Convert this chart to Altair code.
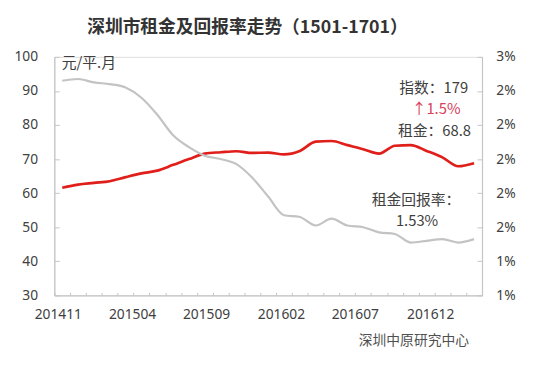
import altair as alt
import pandas as pd

# ---- data ----
MONTHS = ["201411", "201412",
          "201501", "201502", "201503", "201504", "201505", "201506",
          "201507", "201508", "201509", "201510", "201511", "201512",
          "201601", "201602", "201603", "201604", "201605", "201606",
          "201607", "201608", "201609", "201610", "201611", "201612",
          "201701"]
RENT = [61.6, 62.5, 63.0, 63.5, 64.7, 65.8, 66.6, 68.3, 70.0, 71.6, 72.0, 72.3,
        71.8, 71.9, 71.4, 72.4, 75.1, 75.3, 74.1, 72.9, 71.6, 73.9, 74.1, 72.4,
        70.5, 67.9, 68.8]
YIELD_PCT = [2.46, 2.47, 2.45, 2.44, 2.42, 2.36, 2.26, 2.14, 2.07, 2.02, 2.00, 1.97,
             1.89, 1.78, 1.67, 1.66, 1.61, 1.65, 1.61, 1.60, 1.57, 1.56, 1.51, 1.52,
             1.53, 1.51, 1.53]

X_LABELS = ["201411", "201504", "201509", "201602", "201607", "201612"]
X_LABEL_POS = [-0.28, 4.41, 9.08, 13.81, 18.47, 23.23]
LEFT_TICKS = [30, 40, 50, 60, 70, 80, 90, 100]
RIGHT_TICKS = [0.012, 0.014, 0.016, 0.018, 0.020, 0.022, 0.024, 0.026]

TITLE = "深圳市租金及回报率走势（1501-1701）"
ANN_TEXT = ["元/平.月", "指数：179", "↑1.5%", "租金：68.8", "租金回报率：", "1.53%", "深圳中原研究中心"]
ANN_X = [1.68, 23.45, 23.6, 23.5, 22.33, 22.4, 22.2]
ANN_Y = [98.3, 90.75, 84.7, 78.3, 58.1, 51.7, 16.7]
ANN_COLOR = ["#404040", "#404040", "#d9405a", "#404040", "#404040", "#404040", "#505050"]
ANN_SIZE = [15, 15, 15, 15, 15, 15, 14]

df = pd.DataFrame({
    "idx": list(range(len(MONTHS))),
    "month": MONTHS,
    "rent": RENT,
    "yield": [v / 100 for v in YIELD_PCT],
})
ann = pd.DataFrame({"text": ANN_TEXT, "x": ANN_X, "y": ANN_Y,
                    "color": ANN_COLOR, "size": ANN_SIZE})

AX = "#c4c4c4"
LBL = "#404040"
FONT = "Noto Sans"
CJK = "Noto Sans CJK SC"

n = len(MONTHS)
x_scale = alt.Scale(domain=[-0.5, n - 0.5], nice=False, zero=False)
bounds = [k - 0.5 for k in range(n + 1)]

label_expr = "[" + ",".join("'%s'" % s for s in X_LABELS) + "][indexof([" + \
    ",".join(str(v) for v in X_LABEL_POS) + "], datum.value)]"

red = alt.Chart(df).mark_line(color="#e01e1a", strokeWidth=2.7, interpolate="monotone").encode(
    x=alt.X("idx:Q", scale=x_scale, title=None,
            axis=alt.Axis(orient="bottom", values=X_LABEL_POS, labelExpr=label_expr,
                          ticks=False, grid=False, domainColor=AX, domainWidth=1.2,
                          labelPadding=12, labelFontSize=14, labelColor=LBL, labelFont=FONT,
                          labelFlush=False, labelOverlap=False)),
    y=alt.Y("rent:Q", scale=alt.Scale(domain=[30, 100], nice=False, zero=False), title=None,
            axis=alt.Axis(orient="left", values=LEFT_TICKS, grid=False,
                          tickSize={"expr": "-5"}, tickColor=AX, domainColor=AX, domainWidth=1.2,
                          labelPadding=22, labelFontSize=14, labelColor=LBL, labelFont=FONT)),
)

grey = alt.Chart(df).mark_line(color="#c3c3c3", strokeWidth=2.2, interpolate="monotone").encode(
    x=alt.X("idx:Q", scale=x_scale, title=None,
            axis=alt.Axis(orient="bottom", values=bounds, labels=False, domain=False,
                          grid=False, tickSize={"expr": "-3"}, tickColor=AX)),
    y=alt.Y("yield:Q", scale=alt.Scale(domain=[0.012, 0.026], nice=False, zero=False), title=None,
            axis=alt.Axis(orient="right", values=RIGHT_TICKS, format=".0%", grid=False,
                          tickSize={"expr": "-5"}, tickColor=AX, domainColor=AX, domainWidth=1.2,
                          labelPadding=19, labelFontSize=14, labelColor=LBL, labelFont=FONT)),
)

texts = alt.Chart(ann).mark_text(font=CJK, align="center", baseline="middle").encode(
    x=alt.X("x:Q", scale=x_scale, axis=None),
    y=alt.Y("y:Q", scale=alt.Scale(domain=[30, 100], nice=False, zero=False), axis=None),
    text="text:N",
    color=alt.Color("color:N", scale=None),
    size=alt.Size("size:Q", scale=None),
)

chart = alt.layer(red, grey, texts).resolve_scale(
    y="independent"
).resolve_axis(
    x="independent", y="independent"
).properties(
    width=434, height=242,
    title=alt.TitleParams(TITLE, font=CJK, fontSize=18, fontWeight="bold", color="#333333",
                          anchor="middle", frame="group", dx=-21, offset=13),
    autosize=alt.AutoSizeParams(type="none"),
    padding={"left": 47, "top": 47, "right": 69, "bottom": 62},
).configure_view(stroke=None).configure(background="white")

chart.save("out.html", embed_options={"renderer": "svg", "actions": False})
